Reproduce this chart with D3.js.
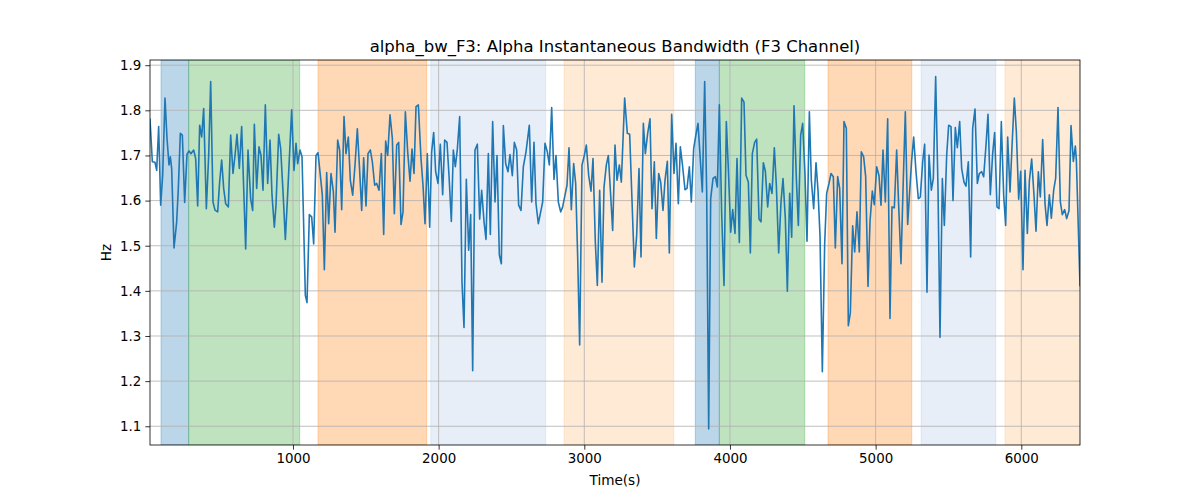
<!DOCTYPE html>
<html>
<head>
<meta charset="utf-8">
<script src="https://cdn.jsdelivr.net/npm/d3@7"></script>
<style>
  html, body { margin: 0; padding: 0; background: #fff; }
  svg { display: block; font-family: "DejaVu Sans", sans-serif; }
</style>
</head>
<body>
<svg id="chart" width="1200" height="500"></svg>
<script>
// ---- data ----
const times = [
18.5,34.5,52.9,64.3,78.0,91.8,105.5,121.5,135.2,149.0,158.1,167.3,183.3,201.6,213.0,226.8,240.5,256.5,272.5,286.3,300.0,309.2,318.3,332.0,345.8,359.5,373.2,387.0,405.3,421.3,435.0,451.0,464.8,483.1,496.8,510.5,524.3,538.0,556.3,572.3,588.3,602.1,615.8,631.8,647.8,
675.3,691.3,709.6,723.4,734.8,750.8,766.8,780.6,794.3,810.3,826.3,842.4,856.1,872.1,883.5,901.9,915.6,931.6,947.6,961.4,975.1,991.1,1007.1,1020.9,1032.3,1048.3,1062.1,1084.9,1096.4,1112.4,1128.4,1142.1,1158.2,1171.9,1187.9,1201.6,1215.4,1231.4,1245.1,1261.1,1277.2,
1288.6,1306.9,1320.6,1334.4,1350.4,1364.1,1380.1,1393.9,1409.9,1425.9,1441.9,1455.7,1471.7,1485.4,1501.4,1515.2,1531.2,1544.9,1560.9,1574.7,1590.7,1606.7,1622.7,1636.4,1650.2,1666.2,1682.2,1695.9,1712.0,1725.7,1741.7,1755.4,1771.5,1787.5,1803.5,1817.2,1831.0,1844.7,1860.7,1879.0,1892.7,1906.5,1922.5,1938.5,
1952.1,1965.9,1979.6,1995.6,2011.6,2027.7,2041.4,2057.4,2071.1,2087.2,2100.9,2114.6,2128.4,2144.4,2160.4,2174.1,2190.1,2206.2,2219.9,2233.6,2249.6,2265.7,2281.7,2295.4,2311.4,2325.2,2341.2,2354.9,2370.9,2386.9,2400.7,2416.7,2430.4,2444.2,2460.2,2476.2,2489.9,2505.9,2519.7,2535.7,2549.4,2565.4,2581.5,2599.8,
2622.6,2638.7,2654.7,2668.4,2684.4,2700.5,2714.2,2730.2,2746.2,2760.0,2776.0,2792.0,2805.7,2821.7,2837.8,2851.5,2867.5,2881.2,2895.0,2911.0,2927.0,2940.7,2954.5,2968.2,2984.2,3000.2,3014.0,3030.0,3046.0,3059.7,3075.7,3089.5,3105.5,3121.5,3135.3,3151.3,3165.0,3181.0,3194.7,3210.8,3224.5,3240.5,3254.3,
3277.1,3295.4,3311.5,3327.5,3343.5,3359.5,3375.5,3389.3,3405.3,3419.0,3435.0,3451.1,3464.8,3480.8,3494.5,3510.6,3524.3,3540.3,3554.0,3570.1,3583.8,3599.8,3615.8,3629.5,3645.6,3659.3,3675.3,3691.3,3705.1,3721.1,3734.8,3750.8,3766.9,3780.6,3796.6,3810.3,3826.4,3840.1,3853.8,3867.5,3883.6,3899.6,3913.3,3927.1,
3943.1,3959.1,3975.1,3988.8,4004.9,4018.6,4034.6,4048.3,4064.4,4080.4,4096.4,4110.1,4126.1,4139.9,4153.6,4169.6,4183.4,4199.4,4213.1,4229.1,4242.9,4258.9,4272.6,4288.6,4304.6,4318.4,4334.4,4350.4,4364.1,4380.1,4393.9,4409.9,4423.6,4439.7,4455.7,4469.4,4485.4,4499.2,4515.2,4528.9,4545.0,4558.6,4574.7,
4590.6,4604.3,4618.1,4634.1,4650.1,4663.8,4679.8,4693.6,4709.6,4723.3,4739.3,4753.1,4769.1,4782.8,4798.8,4812.6,4826.3,4842.3,4856.1,4872.1,4888.1,4901.8,4917.8,4931.6,4947.6,4961.3,4977.3,4991.1,5007.1,5023.1,5036.8,5050.6,5066.6,5082.6,5098.6,5112.4,5128.4,5144.4,5158.1,5174.1,5190.2,5203.9,5219.9,
5233.6,5247.4,5261.1,5277.1,5293.1,5306.9,5322.9,5336.6,5352.6,5366.4,5382.4,5396.1,5412.1,5428.2,5441.9,5457.9,5471.6,5487.7,5501.4,5517.4,5531.1,5547.1,5560.9,5576.9,5590.6,5606.6,5620.4,5636.4,5652.4,5666.2,5682.2,5698.2,5711.9,5727.9,5741.7,5757.7,5771.4,5787.4,5803.4,5817.2,5833.2,5846.9,5862.9,5878.9,
5892.7,5906.5,5922.5,5936.2,5952.2,5966.0,5982.0,5995.7,6011.7,6025.5,6041.5,6055.2,6071.2,6087.2,6101.0,6117.0,6130.7,6146.7,6162.8,6176.5,6192.5,6206.2,6222.3,6236.0,6252.0,6268.0,6281.7,6297.8,6311.5,6327.5,6341.3,6357.3,6371.0,6378.0,6403.0
];
const bandwidth = [
1.78,1.686,1.685,1.667,1.764,1.59,1.656,1.827,1.738,1.679,1.697,1.671,1.495,1.553,1.627,1.749,1.745,1.596,1.703,1.71,1.704,1.708,1.712,1.693,1.588,1.767,1.741,1.804,1.582,1.70,1.864,1.597,1.579,1.575,1.642,1.69,1.627,1.593,1.586,1.745,1.66,1.70,1.747,1.671,1.764,
1.493,1.712,1.604,1.578,1.769,1.627,1.719,1.70,1.623,1.812,1.638,1.734,1.612,1.541,1.59,1.747,1.715,1.62,1.514,1.60,1.693,1.801,1.667,1.727,1.682,1.712,1.697,1.39,1.374,1.569,1.564,1.504,1.70,1.706,1.656,1.612,1.447,1.662,1.549,1.66,1.62,
1.53,1.734,1.712,1.58,1.786,1.704,1.741,1.645,1.612,1.679,1.759,1.679,1.578,1.695,1.588,1.704,1.712,1.686,1.634,1.638,1.623,1.704,1.525,1.732,1.70,1.79,1.738,1.571,1.723,1.729,1.547,1.575,1.797,1.708,1.643,1.714,1.66,1.808,1.812,1.693,1.634,1.549,1.704,1.541,
1.708,1.751,1.664,1.638,1.725,1.613,1.734,1.729,1.656,1.554,1.712,1.675,1.714,1.786,1.419,1.319,1.647,1.49,1.569,1.223,1.712,1.725,1.559,1.623,1.554,1.514,1.704,1.525,1.775,1.597,1.70,1.48,1.46,1.766,1.682,1.664,1.702,1.655,1.729,1.712,1.59,1.578,1.675,1.708,
1.767,1.597,1.729,1.593,1.549,1.575,1.597,1.727,1.708,1.679,1.806,1.647,1.70,1.597,1.575,1.586,1.612,1.634,1.717,1.58,1.682,1.638,1.475,1.28,1.679,1.70,1.723,1.656,1.621,1.693,1.508,1.412,1.623,1.419,1.63,1.679,1.70,1.612,1.534,1.723,1.645,1.679,1.641,
1.827,1.749,1.747,1.60,1.453,1.523,1.671,1.475,1.771,1.704,1.749,1.781,1.582,1.686,1.516,1.66,1.641,1.578,1.645,1.687,1.484,1.791,1.66,1.727,1.593,1.719,1.675,1.624,1.627,1.675,1.597,1.715,1.747,1.771,1.69,1.619,1.864,1.619,1.094,1.604,1.649,1.653,1.63,1.812,
1.571,1.412,1.775,1.671,1.53,1.58,1.527,1.693,1.507,1.827,1.818,1.656,1.641,1.484,1.704,1.729,1.736,1.559,1.553,1.684,1.665,1.586,1.638,1.616,1.717,1.634,1.484,1.597,1.649,1.56,1.399,1.616,1.519,1.81,1.649,1.545,1.745,1.771,1.656,1.51,1.797,1.645,1.582,
1.684,1.623,1.523,1.221,1.503,1.616,1.638,1.66,1.653,1.495,1.653,1.627,1.46,1.775,1.76,1.323,1.351,1.544,1.486,1.575,1.486,1.708,1.697,1.653,1.41,1.553,1.621,1.591,1.675,1.655,1.59,1.712,1.597,1.781,1.339,1.586,1.584,1.712,1.59,1.46,1.649,1.797,1.547,
1.62,1.69,1.741,1.664,1.604,1.608,1.686,1.725,1.397,1.701,1.623,1.649,1.875,1.627,1.297,1.649,1.545,1.70,1.767,1.764,1.60,1.762,1.717,1.775,1.671,1.641,1.632,1.686,1.475,1.76,1.803,1.638,1.66,1.664,1.653,1.723,1.791,1.613,1.704,1.751,1.586,1.582,1.775,1.612,
1.545,1.741,1.619,1.72,1.827,1.753,1.603,1.665,1.447,1.667,1.527,1.643,1.692,1.612,1.532,1.664,1.608,1.735,1.593,1.545,1.613,1.561,1.623,1.65,1.806,1.597,1.569,1.58,1.56,1.578,1.766,1.687,1.721,1.69,1.412
];
const spanStarts = [94, 284, 1172, 1946, 2861, 3762, 3927, 4673, 5312, 5888];
const spanEnds   = [284, 1046, 1918, 2735, 3614, 3927, 4513, 5248, 5825, 6403];
const spanColors = ["#1f77b4", "#2ca02c", "#ff7f0e", "#aec7e8", "#ffbb78", "#1f77b4", "#2ca02c", "#ff7f0e", "#aec7e8", "#ffbb78"];
const xTicks = [1000, 2000, 3000, 4000, 5000, 6000];
const yTicks = [1.1, 1.2, 1.3, 1.4, 1.5, 1.6, 1.7, 1.8, 1.9];
const titleText = "alpha_bw_F3: Alpha Instantaneous Bandwidth (F3 Channel)";
const xLabel = "Time(s)";
const yLabel = "Hz";

// ---- layout ----
const L = 150, R = 1080, T = 60, B = 445;
const svg = d3.select("#chart");
const x = d3.scaleLinear().domain([18.5, 6403]).range([L, R]);
const y = d3.scaleLinear().domain([1.0585, 1.9115]).range([B, T]);

// clip for the plot area
svg.append("clipPath").attr("id", "clip").append("rect")
  .attr("x", L).attr("y", T).attr("width", R - L).attr("height", B - T);

// spans (fill + same-colour edge, like matplotlib axvspan)
svg.append("g").attr("clip-path", "url(#clip)")
  .selectAll("rect").data(spanStarts).join("rect")
  .attr("x", (d, i) => x(d))
  .attr("width", (d, i) => x(spanEnds[i]) - x(d))
  .attr("y", T).attr("height", B - T)
  .attr("fill", (d, i) => spanColors[i])
  .attr("fill-opacity", 0.3)
  .attr("stroke", (d, i) => spanColors[i])
  .attr("stroke-opacity", 0.3)
  .attr("stroke-width", 1);

// grid
const grid = svg.append("g").attr("stroke", "#b0b0b0").attr("stroke-width", 0.8);
grid.selectAll(".gx").data(xTicks).join("line")
  .attr("x1", d => x(d)).attr("x2", d => x(d)).attr("y1", T).attr("y2", B);
grid.selectAll(".gy").data(yTicks).join("line")
  .attr("x1", L).attr("x2", R).attr("y1", d => y(d)).attr("y2", d => y(d));

// line
const line = d3.line().x((d, i) => x(times[i])).y(d => y(d));
svg.append("path").datum(bandwidth)
  .attr("clip-path", "url(#clip)")
  .attr("d", line)
  .attr("fill", "none")
  .attr("stroke", "#1f77b4")
  .attr("stroke-width", 1.6)
  .attr("stroke-linejoin", "round")
  .attr("stroke-linecap", "square");

// axes
const xAxis = d3.axisBottom(x).tickValues(xTicks).tickSize(4.67).tickPadding(4).tickFormat(d3.format("d"));
const yAxis = d3.axisLeft(y).tickValues(yTicks).tickSize(4.67).tickPadding(4).tickFormat(d3.format(".1f"));
const gx = svg.append("g").attr("transform", `translate(0,${B})`).call(xAxis);
const gy = svg.append("g").attr("transform", `translate(${L},0)`).call(yAxis);
[gx, gy].forEach(g => {
  g.select(".domain").remove();
  g.selectAll(".tick line").attr("stroke", "#000").attr("stroke-width", 0.8);
  g.selectAll(".tick text").attr("fill", "#000").style("font-size", "13.4px").style("font-family", "DejaVu Sans");
});

// frame
svg.append("rect").attr("x", L).attr("y", T).attr("width", R - L).attr("height", B - T)
  .attr("fill", "none").attr("stroke", "#000").attr("stroke-width", 0.8);

// texts
svg.append("text").attr("x", (L + R) / 2).attr("y", 52).attr("text-anchor", "middle")
  .style("font-size", "16.5px").text(titleText);
svg.append("text").attr("x", (L + R) / 2).attr("y", 485).attr("text-anchor", "middle")
  .style("font-size", "13.6px").text(xLabel);
svg.append("text").attr("transform", `translate(111,${(T + B) / 2}) rotate(-90)`).attr("text-anchor", "middle")
  .style("font-size", "13.6px").text(yLabel);
</script>
</body>
</html>
